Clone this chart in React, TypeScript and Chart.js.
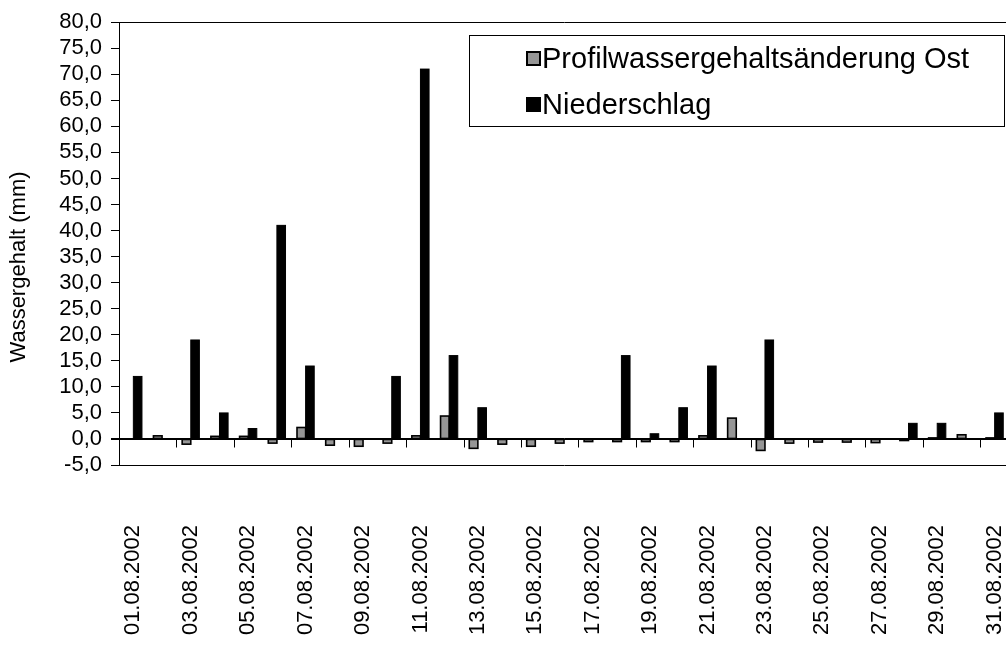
import React, { useEffect, useRef } from "react";
import { Chart, registerables } from "chart.js";

Chart.register(...registerables);

const dates = [
  "01.08.2002", "02.08.2002", "03.08.2002", "04.08.2002", "05.08.2002", "06.08.2002",
  "07.08.2002", "08.08.2002", "09.08.2002", "10.08.2002", "11.08.2002", "12.08.2002",
  "13.08.2002", "14.08.2002", "15.08.2002", "16.08.2002", "17.08.2002", "18.08.2002",
  "19.08.2002", "20.08.2002", "21.08.2002", "22.08.2002", "23.08.2002", "24.08.2002",
  "25.08.2002", "26.08.2002", "27.08.2002", "28.08.2002", "29.08.2002", "30.08.2002",
  "31.08.2002",
];

const profilwasserOst = [
  0, 0.6, -1.0, 0.5, 0.5, -0.8, 2.2, -1.2, -1.4, -0.8, 0.6, 4.4, -1.8, -1.0, -1.4, -0.8,
  -0.5, -0.5, -0.5, -0.5, 0.6, 4.0, -2.2, -0.8, -0.6, -0.6, -0.7, -0.3, 0.2, 0.8, 0.2,
];

const niederschlag = [
  12, 0, 19, 5, 2, 41, 14, 0, 0, 12, 71, 16, 6, 0, 0, 0, 0, 16, 1, 6, 14, 0, 19, 0, 0, 0,
  0, 3, 3, 0, 5,
];

const seriesNames = ["Profilwassergehaltsänderung Ost", "Niederschlag"];
const yTitle = "Wassergehalt (mm)";
const yMin = -5;
const yMax = 80;
const yStep = 5;

const FONT = '"Liberation Sans", Arial, sans-serif';

const overlay = {
  id: "overlay",
  afterDatasetsDraw(chart: any) {
    const { ctx, chartArea, scales } = chart;
    ctx.save();
    // Excel-like outlines centred on bar edges
    for (let d = 0; d < chart.data.datasets.length; d++) {
      const meta = chart.getDatasetMeta(d);
      ctx.strokeStyle = "#000";
      ctx.lineWidth = d === 0 ? 1.6 : 1;
      meta.data.forEach((bar: any, i: number) => {
        const v = chart.data.datasets[d].data[i];
        if (!v) return;
        const left = bar.x - bar.width / 2;
        const top = Math.min(bar.y, bar.base);
        const h = Math.abs(bar.base - bar.y);
        ctx.strokeRect(left, top, bar.width, h);
      });
    }
    const y0 = Math.round(scales.y.getPixelForValue(0)) + 0.5;
    ctx.strokeStyle = "#000";
    ctx.lineWidth = 1;
    ctx.beginPath();
    ctx.moveTo(chartArea.left - 8, y0);
    ctx.lineTo(chartArea.right, y0);
    for (let i = 1; i < dates.length; i += 2) {
      const x = Math.round(scales.x.getPixelForValue(i + 0.5)) + 0.5;
      ctx.moveTo(x, y0);
      ctx.lineTo(x, y0 + 8);
    }
    ctx.stroke();
    ctx.restore();
  },
  afterDraw(chart: any) {
    const { ctx } = chart;
    ctx.save();
    // y axis title
    ctx.translate(25, 267);
    ctx.rotate(-Math.PI / 2);
    ctx.font = `22px ${FONT}`;
    ctx.fillStyle = "#000";
    ctx.textAlign = "center";
    ctx.textBaseline = "alphabetic";
    ctx.fillText(yTitle, 0, 0);
    ctx.restore();

    // legend
    ctx.save();
    ctx.fillStyle = "#fff";
    ctx.fillRect(469.5, 35.5, 535, 91);
    ctx.strokeStyle = "#000";
    ctx.lineWidth = 1;
    ctx.strokeRect(469.5, 35.5, 535, 91);
    const colors = ["#969696", "#000000"];
    const rows = [58, 104];
    ctx.font = `29px ${FONT}`;
    ctx.textBaseline = "alphabetic";
    ctx.textAlign = "left";
    for (let i = 0; i < 2; i++) {
      const cy = rows[i];
      ctx.fillStyle = "#000";
      ctx.fillRect(526, cy - 7, 15, 15);
      ctx.fillStyle = colors[i];
      ctx.fillRect(528, cy - 5, 11, 11);
      ctx.fillStyle = "#000";
      ctx.fillText(seriesNames[i], 542, cy + 10);
    }
    ctx.restore();
  },
};

export default function App() {
  const ref = useRef<HTMLCanvasElement>(null);

  useEffect(() => {
    document.body.style.margin = "0";
    document.body.style.overflow = "hidden";
    const canvas = ref.current;
    if (!canvas) return;
    const chart = new Chart(canvas, {
      type: "bar",
      data: {
        labels: dates,
        datasets: [
          {
            label: seriesNames[0],
            data: profilwasserOst,
            backgroundColor: "#969696",
            borderWidth: 0,
            categoryPercentage: 0.6,
            barPercentage: 1,
          },
          {
            label: seriesNames[1],
            data: niederschlag,
            backgroundColor: "#000",
            borderWidth: 0,
            categoryPercentage: 0.6,
            barPercentage: 1,
          },
        ],
      },
      options: {
        responsive: false,
        animation: false,
        devicePixelRatio: 1,
        layout: { padding: { top: 19, right: 15, left: 0, bottom: 0 } },
        plugins: {
          legend: { display: false },
          tooltip: { enabled: false },
        },
        scales: {
          x: {
            grid: { display: false },
            border: { display: false },
            ticks: {
              autoSkip: false,
              minRotation: 90,
              maxRotation: 90,
              padding: 52,
              color: "#000",
              font: { family: FONT, size: 22 },
              callback: (_v: any, i: number) => (i % 2 === 0 ? dates[i] : ""),
            },
            afterFit: (scale: any) => {
              scale.height = 181;
              scale.paddingLeft = 0;
              scale.paddingRight = 0;
            },
          },
          y: {
            min: yMin,
            max: yMax,
            border: { display: true, color: "#000", width: 1 },
            grid: {
              color: (c: any) =>
                c.tick && (c.tick.value === yMax || c.tick.value === 0 || c.tick.value === yMin)
                  ? "#000"
                  : "rgba(0,0,0,0)",
              tickColor: "#000",
              tickLength: 8,
              lineWidth: 1,
            },
            ticks: {
              autoSkip: false,
              stepSize: yStep,
              padding: 9,
              color: "#000",
              font: { family: FONT, size: 22 },
              callback: (v: any) => Number(v).toFixed(1).replace(".", ","),
            },
            afterFit: (scale: any) => {
              scale.width = 119;
            },
          },
        },
      },
      plugins: [overlay],
    });
    return () => chart.destroy();
  }, []);

  return (
    <div style={{ width: 1006, height: 646, overflow: "hidden", position: "relative", background: "#fff" }}>
      <canvas ref={ref} width={1024} height={646} style={{ display: "block", width: 1024, height: 646 }} />
    </div>
  );
}
